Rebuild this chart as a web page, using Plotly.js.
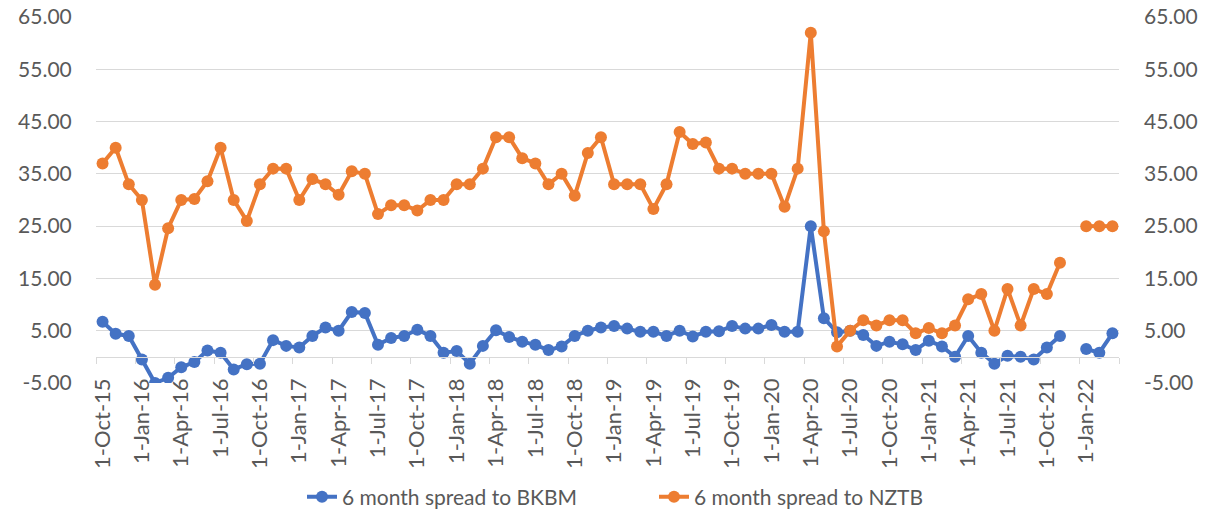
<!DOCTYPE html>
<html>
<head>
<meta charset="utf-8">
<script src="https://cdn.plot.ly/plotly-3.0.1.min.js"></script>
<style>
  html, body { margin: 0; padding: 0; background: #fff; }
  #graph { width: 1216px; height: 509px; }
</style>
</head>
<body>
<div id="graph"></div>
<script>
// months, one per point
const months = [
  "1-Oct-15", "1-Nov-15", "1-Dec-15",
  "1-Jan-16", "1-Feb-16", "1-Mar-16", "1-Apr-16", "1-May-16", "1-Jun-16",
  "1-Jul-16", "1-Aug-16", "1-Sep-16", "1-Oct-16", "1-Nov-16", "1-Dec-16",
  "1-Jan-17", "1-Feb-17", "1-Mar-17", "1-Apr-17", "1-May-17", "1-Jun-17",
  "1-Jul-17", "1-Aug-17", "1-Sep-17", "1-Oct-17", "1-Nov-17", "1-Dec-17",
  "1-Jan-18", "1-Feb-18", "1-Mar-18", "1-Apr-18", "1-May-18", "1-Jun-18",
  "1-Jul-18", "1-Aug-18", "1-Sep-18", "1-Oct-18", "1-Nov-18", "1-Dec-18",
  "1-Jan-19", "1-Feb-19", "1-Mar-19", "1-Apr-19", "1-May-19", "1-Jun-19",
  "1-Jul-19", "1-Aug-19", "1-Sep-19", "1-Oct-19", "1-Nov-19", "1-Dec-19",
  "1-Jan-20", "1-Feb-20", "1-Mar-20", "1-Apr-20", "1-May-20", "1-Jun-20",
  "1-Jul-20", "1-Aug-20", "1-Sep-20", "1-Oct-20", "1-Nov-20", "1-Dec-20",
  "1-Jan-21", "1-Feb-21", "1-Mar-21", "1-Apr-21", "1-May-21", "1-Jun-21",
  "1-Jul-21", "1-Aug-21", "1-Sep-21", "1-Oct-21", "1-Nov-21", "1-Dec-21",
  "1-Jan-22", "1-Feb-22", "1-Mar-22"
];

// 6 month spread to BKBM (Dec-21 missing)
const bkbm = [
  6.7, 4.4, 4.0,
  -0.5, -5.0, -4.0, -2.0, -1.0, 1.2, 0.8, -2.4, -1.4, -1.3, 3.2, 2.1,
  1.8, 4.0, 5.6, 5.0, 8.6, 8.4, 2.3, 3.6, 4.0, 5.2, 4.0, 0.8,
  1.1, -1.3, 2.1, 5.1, 3.8, 2.9, 2.3, 1.3, 2.0, 4.0, 5.0, 5.6,
  5.9, 5.4, 4.8, 4.8, 4.0, 5.0, 3.9, 4.8, 4.9, 5.9, 5.4, 5.4,
  6.1, 4.8, 4.8, 25.0, 7.4, 4.7, 5.0, 4.2, 2.1, 2.9, 2.4, 1.3,
  3.1, 2.0, 0.0, 4.0, 0.8, -1.3, 0.2, 0.0, -0.5, 1.8, 4.0, null,
  1.5, 0.8, 4.5
];

// 6 month spread to NZTB (Dec-21 missing)
const nztb = [
  37, 40, 33,
  30, 13.8, 24.6, 30, 30.2, 33.6, 40, 30, 26, 33, 36, 36,
  30, 34, 33, 31, 35.5, 35, 27.3, 29, 29, 28, 30, 30,
  33, 33, 36, 42, 42, 38, 37, 33, 35, 30.8, 39, 42,
  33, 33, 33, 28.3, 33, 43, 40.7, 41, 36, 36, 35, 35,
  35, 28.7, 36, 62, 24, 2, 5, 7, 6, 7, 7, 4.5,
  5.5, 4.5, 6, 11, 12, 5, 13, 6, 13, 12, 18, null,
  25, 25, 25
];

const xTickLabels = [
  "1-Oct-15", "1-Jan-16", "1-Apr-16", "1-Jul-16", "1-Oct-16",
  "1-Jan-17", "1-Apr-17", "1-Jul-17", "1-Oct-17",
  "1-Jan-18", "1-Apr-18", "1-Jul-18", "1-Oct-18",
  "1-Jan-19", "1-Apr-19", "1-Jul-19", "1-Oct-19",
  "1-Jan-20", "1-Apr-20", "1-Jul-20", "1-Oct-20",
  "1-Jan-21", "1-Apr-21", "1-Jul-21", "1-Oct-21", "1-Jan-22"
];

const yTickVals = [-5, 5, 15, 25, 35, 45, 55, 65];
const yTickText = ["-5.00", "5.00", "15.00", "25.00", "35.00", "45.00", "55.00", "65.00"];

const seriesNames = ["6 month spread to BKBM", "6 month spread to NZTB"];

const BLUE = "#4472C4";
const ORANGE = "#ED7D31";
const TEXT = "#595959";
const GRID = "#d9d9d9";
const FONT = "Lato, 'Liberation Sans', sans-serif";

const yMin = -5, yMax = 65;

const traces = [
  {
    x: months, y: bkbm, name: seriesNames[0],
    type: "scatter", mode: "lines+markers",
    line: { color: BLUE, width: 4 },
    marker: { color: BLUE, size: 12 },
    connectgaps: false
  },
  {
    x: months, y: nztb, name: seriesNames[1],
    type: "scatter", mode: "lines+markers",
    line: { color: ORANGE, width: 4 },
    marker: { color: ORANGE, size: 12 },
    connectgaps: false
  },
  // empty trace so the axis line at zero gets drawn
  { x: [], y: [], xaxis: "x2", yaxis: "y", showlegend: false, hoverinfo: "skip" },
  // empty trace for the right hand axis
  { x: [], y: [], xaxis: "x", yaxis: "y2", showlegend: false, hoverinfo: "skip" }
];

const layout = {
  width: 1216,
  height: 509,
  margin: { l: 96, r: 97, t: 17, b: 126, autoexpand: false },
  paper_bgcolor: "#fff",
  plot_bgcolor: "#fff",
  font: { family: FONT, size: 20, color: TEXT },
  showlegend: true,
  legend: {
    orientation: "h",
    xref: "container",
    yref: "container",
    x: 302 / 1216, xanchor: "left",
    y: 1 - 497 / 509, yanchor: "middle",
    entrywidth: 307,
    entrywidthmode: "pixels",
    font: { family: FONT, size: 21, color: TEXT },
    traceorder: "normal"
  },
  xaxis: {
    type: "category",
    range: [-0.5, months.length - 0.5],
    tickmode: "array",
    tickvals: xTickLabels,
    ticktext: xTickLabels,
    tickangle: -90,
    ticks: "",
    automargin: false,
    showgrid: false,
    showline: false,
    zeroline: false,
    ticklabelstandoff: -10,
    tickfont: { family: FONT, size: 22, color: TEXT }
  },
  xaxis2: {
    overlaying: "x",
    anchor: "free",
    position: (0 - yMin) / (yMax - yMin),
    range: [-0.5, months.length - 0.5],
    tickmode: "linear",
    tick0: -0.5,
    dtick: 3,
    ticks: "outside",
    ticklen: 6,
    tickwidth: 1,
    tickcolor: GRID,
    showline: true,
    linecolor: GRID,
    linewidth: 1,
    showticklabels: false,
    showgrid: false,
    zeroline: false
  },
  yaxis: {
    range: [yMin, yMax],
    tickmode: "array",
    tickvals: yTickVals,
    ticktext: yTickText,
    automargin: false,
    showgrid: true,
    gridcolor: GRID,
    gridwidth: 1,
    zeroline: false,
    showline: false,
    // invisible ticks keep the labels clear of the plot edge
    ticks: "outside",
    ticklen: 19,
    tickcolor: "rgba(0,0,0,0)",
    tickfont: { family: FONT, size: 21, color: TEXT }
  },
  yaxis2: {
    overlaying: "y",
    side: "right",
    range: [yMin, yMax],
    tickmode: "array",
    tickvals: yTickVals,
    ticktext: yTickText,
    automargin: false,
    showgrid: false,
    zeroline: false,
    showline: false,
    ticks: "",
    ticklabelstandoff: 24,
    tickfont: { family: FONT, size: 21, color: TEXT }
  }
};

Plotly.newPlot("graph", traces, layout, { displayModeBar: false, staticPlot: true });
</script>
</body>
</html>
